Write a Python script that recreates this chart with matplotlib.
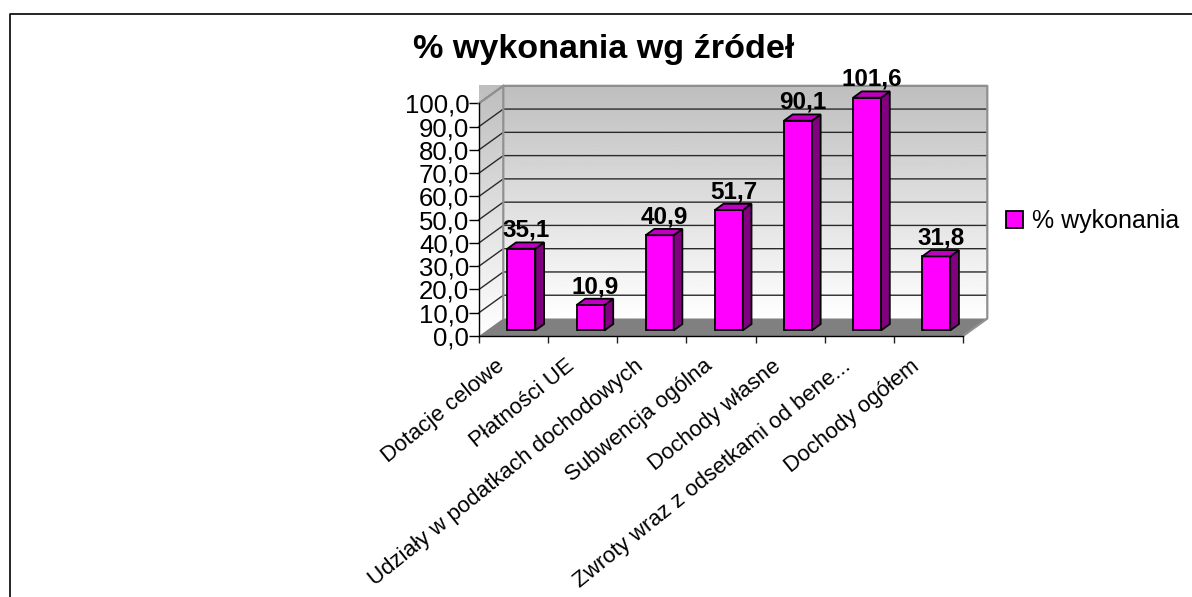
import numpy as np
import matplotlib
matplotlib.use('Agg')
import matplotlib.pyplot as plt
from matplotlib.lines import Line2D
from matplotlib.patches import Polygon
from matplotlib.transforms import ScaledTranslation

plt.rcParams['font.family'] = ['Liberation Sans', 'DejaVu Sans']

categories = ['Dotacje celowe', 'Płatności UE', 'Udziały w podatkach dochodowych',
              'Subwencja ogólna', 'Dochody własne',
              'Zwroty wraz z odsetkami od bene...', 'Dochody ogółem']
values = [35.1, 10.9, 40.9, 51.7, 90.1, 101.6, 31.8]
y_ticks = [0, 10, 20, 30, 40, 50, 60, 70, 80, 90, 100]
y_labels = ['0,0', '10,0', '20,0', '30,0', '40,0', '50,0', '60,0', '70,0', '80,0', '90,0', '100,0']
series_name = '% wykonania'
title = '% wykonania wg źródeł'

W, H = 1192, 597
fig = plt.figure(figsize=(W/100, H/100), dpi=100)

# plot front plane in pixels
left, right, top, bottom = 479, 963, 103.3, 336
ax = fig.add_axes([left/W, 1-bottom/H, (right-left)/W, (bottom-top)/H])
ax.set_xlim(0, 7)
ax.set_ylim(0, 100)

px_x = 7/(right-left)
px_y = 100/(bottom-top)
dx, dy = 24.3*px_x, 17.5*px_y      # wall depth
bx, by = 8.7*px_x, 6.3*px_y        # bar depth
bar_w = 28*px_x
off_x = (dx-bx)/2
off_y = (dy-by)/2

# gradient walls
grad = np.linspace(0.745, 1.0, 256).reshape(-1, 1)
back = ax.imshow(grad, cmap='gray', vmin=0, vmax=1, aspect='auto', zorder=1,
                 extent=[dx, 7+dx, dy, 100+dy], clip_on=False)
side = ax.imshow(grad, cmap='gray', vmin=0, vmax=1, aspect='auto', zorder=1,
                 extent=[0, dx, 0, 100+dy], clip_on=False)
side.set_clip_path(Polygon([(0, 0), (dx, dy), (dx, 100+dy), (0, 100)], transform=ax.transData))
ax.set_xlim(0, 7)
ax.set_ylim(0, 100)

# floor
ax.add_patch(Polygon([(0, 0), (7, 0), (7+dx, dy), (dx, dy)], fc='#808080', ec='none',
                     zorder=2, clip_on=False))

# grid lines on the walls
for t in y_ticks[1:]:
    ax.plot([0, dx, 7+dx], [t, t+dy, t+dy], color='#2a2a2a', lw=1.0, zorder=2, clip_on=False)
ax.plot([dx, dx, 7+dx, 7+dx, 7], [dy, 100+dy, 100+dy, dy, 0], color='#909090', lw=1.6,
        zorder=2, clip_on=False)
ax.plot([0, dx], [100, 100+dy], color='#909090', lw=1.6, zorder=2, clip_on=False)

# bars
x = np.arange(len(values)) + 0.5 + off_x
heights = np.minimum(values, 100)
bars = ax.bar(x, heights, width=bar_w, bottom=off_y, color='#FF00FF', edgecolor='black',
              linewidth=1.3, zorder=4, clip_on=False, label=series_name)
for xc, h, v in zip(x, heights, values):
    x0, x1 = xc-bar_w/2, xc+bar_w/2
    t = off_y+h
    ax.add_patch(Polygon([(x1, off_y), (x1+bx, off_y+by), (x1+bx, t+by), (x1, t)],
                         fc='#800080', ec='black', lw=1.3, zorder=4, clip_on=False))
    ax.add_patch(Polygon([(x0, t), (x1, t), (x1+bx, t+by), (x0+bx, t+by)],
                         fc='#C000C0', ec='black', lw=1.3, zorder=4, clip_on=False))
    ax.text(xc+5*px_x, t+by+5.5*px_y, f'{v:.1f}'.replace('.', ','), ha='center', va='baseline',
            fontsize=17.5, fontweight='bold', color='black', zorder=5, clip_on=False)

# axes
for s in ['top', 'right']:
    ax.spines[s].set_visible(False)
for s in ['left', 'bottom']:
    ax.spines[s].set_linewidth(1.0)
    ax.spines[s].set_zorder(3)
ax.patch.set_visible(False)
ax.set_yticks(y_ticks)
ax.set_yticklabels(y_labels, fontsize=18.5)
ax.tick_params(axis='y', length=7, width=1, pad=0)
ax.set_xticks(np.arange(0, 8))
ax.set_xticklabels([])
ax.tick_params(axis='x', which='major', length=5, width=1, color='#222222')
ax.set_xticks(np.arange(len(categories))+0.5, minor=True)
ax.set_xticklabels(categories, minor=True, rotation=39, ha='right', va='top',
                   rotation_mode='anchor', fontsize=16)
ax.tick_params(axis='x', which='minor', length=0, pad=14)
shift = ScaledTranslation(-18/100, 0, fig.dpi_scale_trans)
for lab in ax.get_xticklabels(minor=True):
    lab.set_transform(lab.get_transform()+shift)

ax.legend(handles=[bars], loc='center left', bbox_to_anchor=(1006/W, 1-221/H),
          bbox_transform=fig.transFigure, frameon=False, fontsize=18, borderpad=0,
          borderaxespad=0, handlelength=0.67, handleheight=0.67, handletextpad=0.35)

fig.text(604/W, 1-58/H, title, ha='center', va='baseline', fontsize=24.6, fontweight='bold')

# outer frame
fig.add_artist(Line2D([10/W, 10/W, 1], [0, 1-13.5/H, 1-13.5/H], color='black', lw=1.2))

fig.savefig('out.png', dpi=100)
